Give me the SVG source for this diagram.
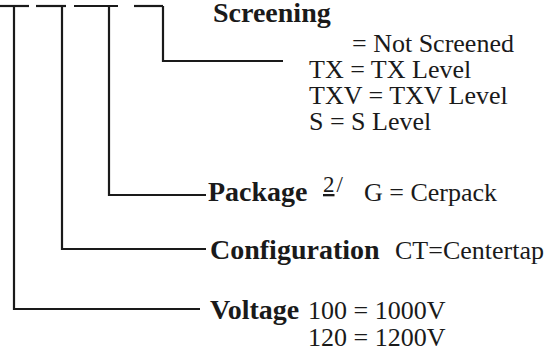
<svg xmlns="http://www.w3.org/2000/svg" width="553" height="356" viewBox="0 0 553 356">
<style>
.ln{stroke:#1a1a1a;stroke-width:2.2;fill:none;stroke-linecap:butt}
.b{font-family:"Liberation Serif","Times New Roman",serif;font-weight:bold;font-size:28px;fill:#1a1a1a}
.r{font-family:"Liberation Serif","Times New Roman",serif;font-size:26px;fill:#1a1a1a}
.s{font-family:"Liberation Serif","Times New Roman",serif;font-size:23px;fill:#1a1a1a}
</style>
<rect width="553" height="356" fill="#fff"/>
<g id="connectors">
<line class="ln" x1="0" y1="6" x2="29" y2="6"/>
<line class="ln" x1="36" y1="6" x2="66" y2="6"/>
<line class="ln" x1="74" y1="6" x2="118" y2="6"/>
<line class="ln" x1="134" y1="6" x2="163" y2="6"/>
<polyline class="ln" points="14,6 14,309 200,309"/>
<polyline class="ln" points="62,6 62,249 206,249"/>
<polyline class="ln" points="109,6 109,195 206,195"/>
<polyline class="ln" points="163,6 163,61 283,61"/>
</g>
<g id="screening">
<text class="b" x="213" y="22">Screening</text>
<text class="r" x="352" y="52">= Not Screened</text>
<text class="r" x="309" y="78">TX = TX Level</text>
<text class="r" x="309" y="104">TXV = TXV Level</text>
<text class="r" x="309" y="130">S = S Level</text>
</g>
<g id="package">
<text class="b" x="208" y="201">Package</text>
<text class="s" x="323" y="192"><tspan text-decoration="underline">2</tspan><tspan dx="2">/</tspan></text>
<text class="r" x="364" y="201">G = Cerpack</text>
</g>
<g id="configuration">
<text class="b" x="210" y="259">Configuration</text>
<text class="r" x="395" y="259">CT=Centertap</text>
</g>
<g id="voltage">
<text class="b" x="210" y="319">Voltage</text>
<text class="r" x="308" y="319">100 = 1000V</text>
<text class="r" x="308" y="346">120 = 1200V</text>
</g>
</svg>
